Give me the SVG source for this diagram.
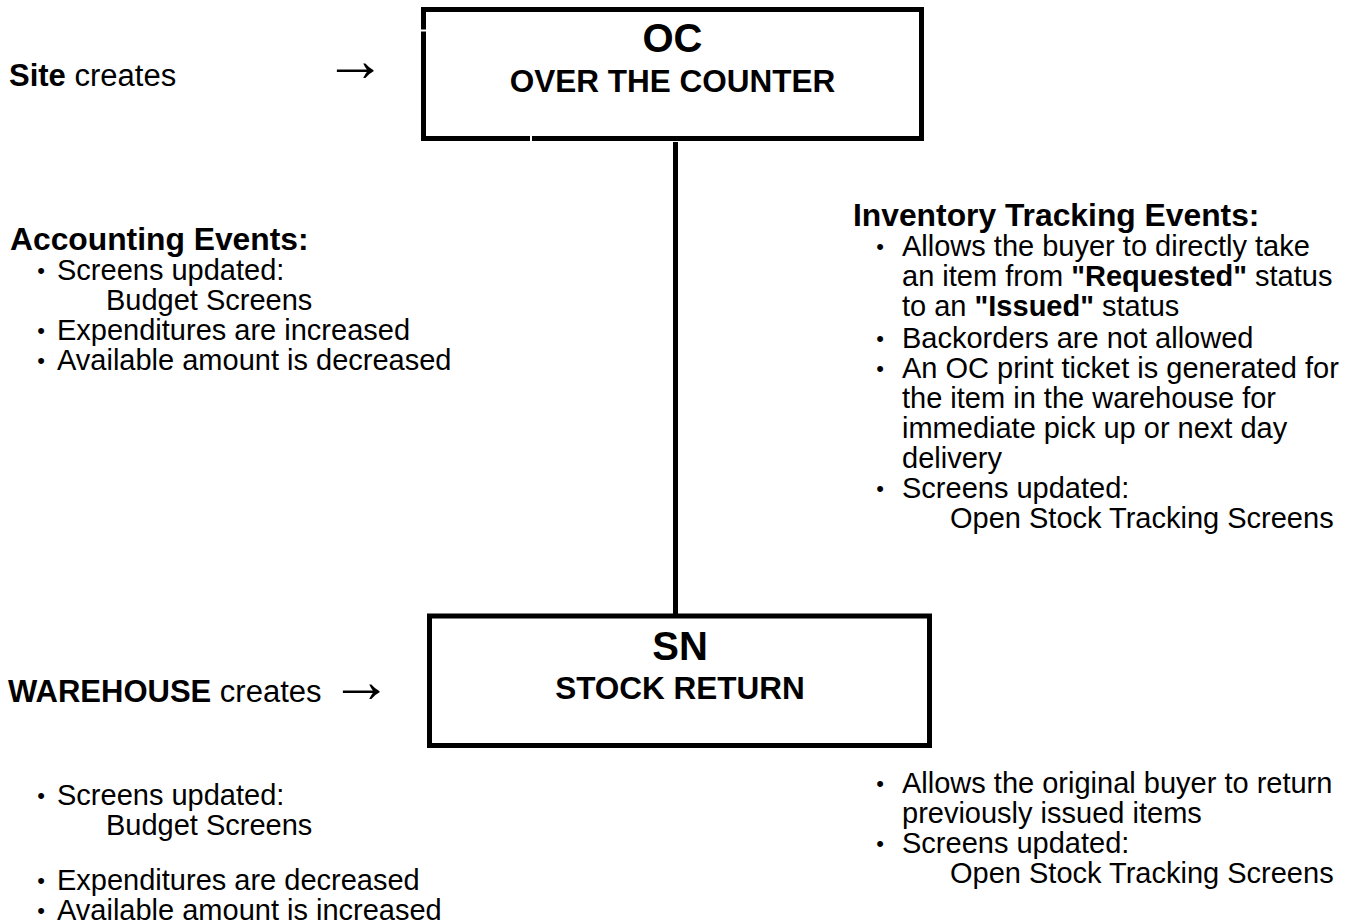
<svg xmlns="http://www.w3.org/2000/svg" width="1356" height="924" viewBox="0 0 1356 924">
<style>
text{font-family:"Liberation Sans",Arial,sans-serif;fill:#000}
.box{fill:#fff;stroke:#000;stroke-width:5}
.t1{font-size:40px;font-weight:bold;text-anchor:middle}
.t2{font-size:31.5px;font-weight:bold;text-anchor:middle}
.lbl{font-size:31px}
.h{font-size:31.8px;font-weight:bold}
.b{font-size:29px}
.bul{font-size:22px;text-anchor:middle}
.bold{font-weight:bold}
.arr{font-size:62px}
.conn{stroke:#000;stroke-width:5;fill:none}
</style>
<rect width="1356" height="924" fill="#fff"/>
<g id="connectors">
<line class="conn" x1="675.5" y1="142" x2="675.5" y2="614"/>
</g>
<g id="node-oc">
<rect class="box" x="423.5" y="9.5" width="498" height="129"/>
<rect x="419" y="29.5" width="10" height="2" fill="#fff"/>
<rect x="530" y="134" width="2" height="10" fill="#fff"/>
<text class="t1" x="672.5" y="52">OC</text>
<text class="t2" x="672.5" y="92">OVER THE COUNTER</text>
</g>
<g id="node-sn">
<rect class="box" x="429.5" y="616" width="500" height="129.5"/>
<text class="t1" x="680" y="660">SN</text>
<text class="t2" x="680" y="699">STOCK RETURN</text>
</g>
<g id="label-site">
<text class="lbl" x="9" y="86"><tspan class="bold">Site</tspan> creates</text>
<text class="arr" x="324" y="81">→</text>
</g>
<g id="label-warehouse">
<text class="lbl" x="8" y="702"><tspan class="bold">WAREHOUSE</tspan> creates</text>
<text class="arr" x="330" y="702">→</text>
</g>
<g id="accounting-oc">
<text class="h" x="10" y="250">Accounting Events:</text>
<text class="bul" x="41" y="278">•</text>
<text class="b" x="57" y="280">Screens updated:</text>
<text class="b" x="106" y="310">Budget Screens</text>
<text class="bul" x="41" y="338">•</text>
<text class="b" x="57" y="340">Expenditures are increased</text>
<text class="bul" x="41" y="368">•</text>
<text class="b" x="57" y="370">Available amount is decreased</text>
</g>
<g id="inventory-oc">
<text class="h" x="853" y="226">Inventory Tracking Events:</text>
<text class="bul" x="880" y="254">•</text>
<text class="b" x="902" y="256">Allows the buyer to directly take</text>
<text class="b" x="902" y="286">an item from <tspan class="bold">"Requested"</tspan> status</text>
<text class="b" x="902" y="316">to an <tspan class="bold">"Issued"</tspan> status</text>
<text class="bul" x="880" y="346">•</text>
<text class="b" x="902" y="348">Backorders are not allowed</text>
<text class="bul" x="880" y="376">•</text>
<text class="b" x="902" y="378">An OC print ticket is generated for</text>
<text class="b" x="902" y="408">the item in the warehouse for</text>
<text class="b" x="902" y="438">immediate pick up or next day</text>
<text class="b" x="902" y="468">delivery</text>
<text class="bul" x="880" y="496">•</text>
<text class="b" x="902" y="498">Screens updated:</text>
<text class="b" x="950" y="528">Open Stock Tracking Screens</text>
</g>
<g id="accounting-sn">
<text class="bul" x="41" y="803">•</text>
<text class="b" x="57" y="805">Screens updated:</text>
<text class="b" x="106" y="835">Budget Screens</text>
<text class="bul" x="41" y="888">•</text>
<text class="b" x="57" y="890">Expenditures are decreased</text>
<text class="bul" x="41" y="918">•</text>
<text class="b" x="57" y="920">Available amount is increased</text>
</g>
<g id="inventory-sn">
<text class="bul" x="880" y="791">•</text>
<text class="b" x="902" y="793">Allows the original buyer to return</text>
<text class="b" x="902" y="823">previously issued items</text>
<text class="bul" x="880" y="851">•</text>
<text class="b" x="902" y="853">Screens updated:</text>
<text class="b" x="950" y="883">Open Stock Tracking Screens</text>
</g>
</svg>
